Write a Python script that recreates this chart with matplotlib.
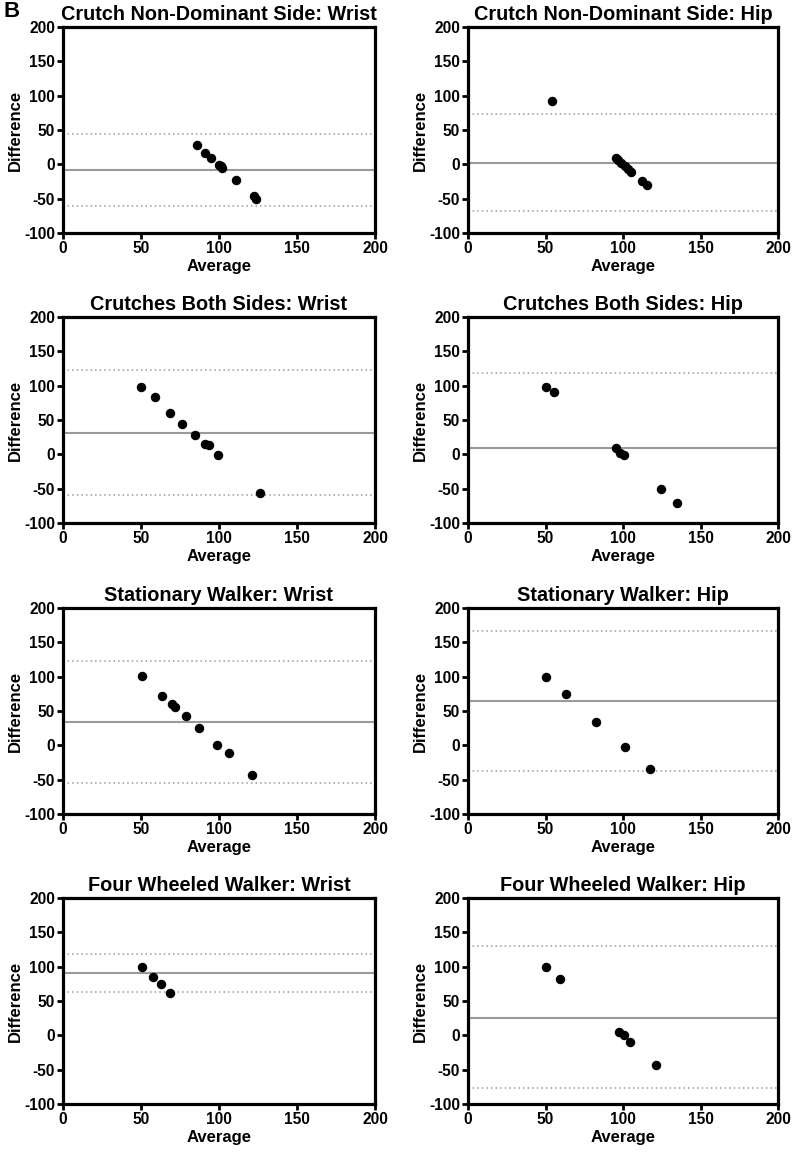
"""Bland-Altman grid: difference vs average for each walking aid and sensor location."""

import matplotlib

matplotlib.use("Agg")

import matplotlib.pyplot as plt  # noqa: E402

plt.rcParams["font.family"] = ["Liberation Sans", "DejaVu Sans"]
plt.rcParams["font.weight"] = "bold"
plt.rcParams["axes.unicode_minus"] = False

titles = [
    "Crutch Non-Dominant Side: Wrist",
    "Crutch Non-Dominant Side: Hip",
    "Crutches Both Sides: Wrist",
    "Crutches Both Sides: Hip",
    "Stationary Walker: Wrist",
    "Stationary Walker: Hip",
    "Four Wheeled Walker: Wrist",
    "Four Wheeled Walker: Hip",
]

avg_cnd_wrist = [85.6, 90.9, 94.8, 100.1, 101.0, 102.2, 110.8, 122.4, 124.0]
diff_cnd_wrist = [28.3, 17.0, 9.8, -1.5, -3.0, -4.9, -23.4, -45.4, -49.8]
avg_cnd_hip = [54.4, 95.3, 96.8, 98.9, 101.1, 103.2, 105.4, 112.5, 115.7]
diff_cnd_hip = [91.7, 9.8, 6.8, 2.4, -2.4, -6.3, -11.2, -24.4, -30.2]
avg_cbs_wrist = [50.3, 58.8, 68.9, 76.6, 84.9, 91.3, 93.7, 99.5, 126.2]
diff_cbs_wrist = [98.5, 82.9, 60.0, 43.9, 28.3, 14.6, 13.2, -1.0, -55.6]
avg_cbs_hip = [50.1, 55.3, 95.3, 97.8, 100.4, 124.5, 134.8]
diff_cbs_hip = [98.5, 91.2, 8.8, 2.4, -1.5, -50.7, -70.2]
avg_sw_wrist = [50.9, 63.7, 69.7, 71.7, 78.7, 87.1, 99.0, 106.1, 121.1]
diff_sw_wrist = [101.0, 72.2, 59.5, 56.1, 42.4, 25.4, 1.0, -10.7, -42.9]
avg_sw_hip = [50.5, 63.0, 82.8, 101.1, 117.6]
diff_sw_hip = [100.0, 74.6, 34.1, -2.0, -35.1]
avg_fww_wrist = [50.5, 57.8, 62.7, 68.4]
diff_fww_wrist = [99.2, 84.7, 74.5, 61.9]
avg_fww_hip = [50.1, 59.1, 97.2, 100.4, 104.7, 121.5]
diff_fww_hip = [99.7, 82.2, 5.3, 0.0, -9.7, -43.0]

averages = [avg_cnd_wrist, avg_cnd_hip, avg_cbs_wrist, avg_cbs_hip,
            avg_sw_wrist, avg_sw_hip, avg_fww_wrist, avg_fww_hip]
differences = [diff_cnd_wrist, diff_cnd_hip, diff_cbs_wrist, diff_cbs_hip,
               diff_sw_wrist, diff_sw_hip, diff_fww_wrist, diff_fww_hip]

mean_bias = [-8.3, 2.0, 31.7, 8.8, 34.1, 64.4, 91.0, 25.6]
upper_loa = [43.9, 72.7, 122.9, 118.0, 122.9, 166.8, 118.5, 129.7]
lower_loa = [-60.0, -68.3, -59.5, -100.4, -54.6, -38.0, 63.4, -77.4]

x_ticks = [0, 50, 100, 150, 200]
y_ticks = [-100, -50, 0, 50, 100, 150, 200]

FIG_W, FIG_H = 795, 1153
col_left_px = [63, 468]
col_width_px = [312, 310]
row_top_px = [27, 317, 608, 898]
ax_height_px = 206

fig = plt.figure(figsize=(FIG_W / 100, FIG_H / 100), dpi=100)

for i, title in enumerate(titles):
    row, col = divmod(i, 2)
    left = col_left_px[col] / FIG_W
    width = col_width_px[col] / FIG_W
    bottom = 1 - (row_top_px[row] + ax_height_px) / FIG_H
    ax = fig.add_axes([left, bottom, width, ax_height_px / FIG_H])

    ax.axhline(mean_bias[i], color="#9a9a9a", linewidth=1.5, zorder=1)
    ax.axhline(upper_loa[i], color="#9a9a9a", linewidth=1.1, linestyle=(0, (1, 2)), zorder=1)
    ax.axhline(lower_loa[i], color="#9a9a9a", linewidth=1.1, linestyle=(0, (1, 2)), zorder=1)
    ax.plot(averages[i], differences[i], "o", color="black", markersize=5.8,
            linestyle="none", zorder=3)

    ax.set_xlim(0, 200)
    ax.set_ylim(-100, 200)
    ax.set_xticks(x_ticks)
    ax.set_yticks(y_ticks)
    ax.tick_params(direction="out", length=4.5, width=2.0, labelsize=11.2, pad=1.2)
    for lab in ax.get_xticklabels() + ax.get_yticklabels():
        lab.set_fontweight("bold")
    for spine in ax.spines.values():
        spine.set_linewidth(2.3)
    ax.set_title(title, fontsize=14.3, fontweight="bold", pad=5)
    ax.set_xlabel("Average", fontsize=12, fontweight="bold", labelpad=2)
    ax.set_ylabel("Difference", fontsize=12, fontweight="bold", labelpad=1)

fig.text(0.004, 0.999, "B", fontsize=16, fontweight="bold", ha="left", va="top")

fig.savefig("out.png", dpi=100)
plt.close(fig)
